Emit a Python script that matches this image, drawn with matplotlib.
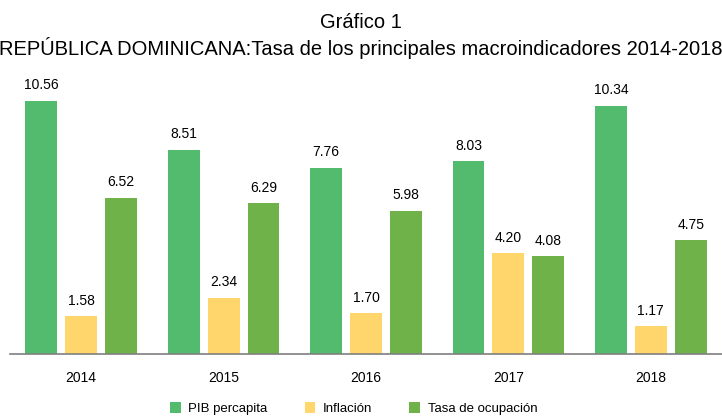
import matplotlib.pyplot as plt
import numpy as np

years = ['2014', '2015', '2016', '2017', '2018']
pib = [10.56, 8.51, 7.76, 8.03, 10.34]
inflacion = [1.58, 2.34, 1.70, 4.20, 1.17]
ocupacion = [6.52, 6.29, 5.98, 4.08, 4.75]
series = ['PIB percapita', 'Inflación', 'Tasa de ocupación']

plt.rcParams['font.family'] = ['Liberation Sans', 'DejaVu Sans']

fig = plt.figure(figsize=(7.22, 4.18), dpi=100)
ax = fig.add_axes([0.0139, 0.153, 0.9861, 0.689])

x = np.arange(len(years))
w = 0.224
step = 0.28
colors = ['#52bb6d', '#ffd66b', '#70b24a']
for i, (vals, name) in enumerate(zip([pib, inflacion, ocupacion], series)):
    bars = ax.bar(x + (i - 1) * step, vals, w, color=colors[i], label=name)
    for b, v in zip(bars, vals):
        ax.text(b.get_x() + b.get_width() / 2, v + 0.35, '%.2f' % v,
                ha='center', va='bottom', fontsize=10)

ax.set_xlim(-0.5, 4.5)
ax.set_ylim(0, 12)
ax.set_xticks(x)
ax.set_xticklabels(years, fontsize=10)
ax.tick_params(axis='x', length=0, pad=12)
ax.set_yticks([])
for s in ['top', 'right', 'left']:
    ax.spines[s].set_visible(False)
ax.spines['bottom'].set_color('#7f7f7f')
ax.spines['bottom'].set_linewidth(1.2)

fig.text(0.5, 0.945, 'Gráfico 1', ha='center', va='center', fontsize=14.5)
fig.text(0.5, 0.885, 'REPÚBLICA DOMINICANA:Tasa de los principales macroindicadores 2014-2018',
         ha='center', va='center', fontsize=14.5)

fig.legend(loc='center', bbox_to_anchor=(0.49, 0.022), ncol=3, frameon=False,
           fontsize=9.5, handlelength=0.8, handleheight=0.8, columnspacing=2.8,
           handletextpad=0.6)

fig.savefig('out.png', dpi=100)
